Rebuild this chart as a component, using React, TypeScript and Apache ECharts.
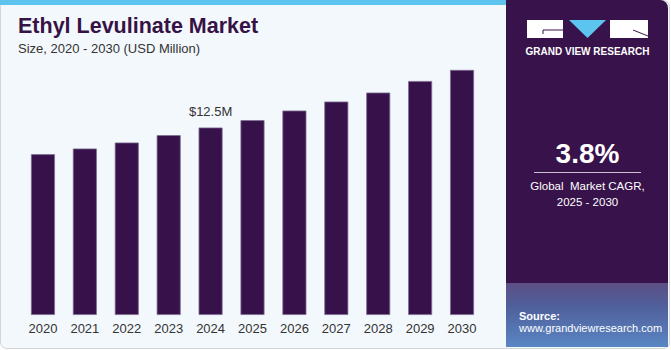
import React, { useEffect, useRef } from "react";
import * as echarts from "echarts";

const years = ["2020", "2021", "2022", "2023", "2024", "2025", "2026", "2027", "2028", "2029", "2030"];
const marketSize = [10.72, 11.1, 11.5, 11.99, 12.5, 12.99, 13.63, 14.23, 14.83, 15.6, 16.34];
const labelYear = "2024";
const labelText = "$12.5M";
const titleText = "Ethyl Levulinate Market";
const subtitleText = "Size, 2020 - 2030 (USD Million)";
const cagrValue = "3.8%";
const cagrLine1 = "Global  Market CAGR,";
const cagrLine2 = "2025 - 2030";

export default function App() {
  const ref = useRef<HTMLDivElement>(null);
  useEffect(() => {
    if (!ref.current) return;
    const chart = echarts.init(ref.current, undefined, { renderer: "svg" });
    const font = "'Liberation Sans', Arial, sans-serif";
    chart.setOption({
      animation: false,
      grid: { left: 22, right: 188, top: 45, bottom: 35 },
      xAxis: {
        type: "category",
        data: years,
        axisLine: { show: false },
        axisTick: { show: false },
        axisLabel: { color: "#333", fontSize: 13, fontFamily: font, margin: 7 },
      },
      yAxis: { type: "value", min: 0, max: 18, show: false, splitLine: { show: false } },
      graphic: [
        { type: "rect", z: -10, shape: { x: 0.5, y: 0.5, width: 669, height: 348, r: 6 }, style: { fill: "#f3f8fc", stroke: "#d2d4d6", lineWidth: 1 } },
        { type: "rect", z: -9, shape: { x: 0, y: 0, width: 506, height: 5 }, style: { fill: "#5cc4ef" } },
        { type: "rect", z: -9, shape: { x: 506, y: 0, width: 162, height: 347, r: [0, 8, 0, 0] }, style: { fill: "#38124a" } },
        {
          type: "rect", z: -8, shape: { x: 506, y: 283, width: 162, height: 64 },
          style: {
            fill: new echarts.graphic.LinearGradient(0, 0, 0, 1, [
              { offset: 0, color: "#5c4f85" },
              { offset: 0.35, color: "#4f5f9a" },
              { offset: 1, color: "#5a86c4" },
            ]),
          },
        },
        { type: "text", style: { x: 18, y: 15, text: titleText, fill: "#361245", font: `bold 21.5px ${font}` } },
        { type: "text", style: { x: 18, y: 42, text: subtitleText, fill: "#333", font: `13px ${font}` } },
        // logo
        { type: "rect", shape: { x: 527, y: 20, width: 36, height: 18 }, style: { fill: "#ffffff" } },
        { type: "polyline", shape: { points: [[563, 30], [543, 30], [543, 34]] }, style: { stroke: "#38124a", lineWidth: 1, fill: null } },
        { type: "polygon", shape: { points: [[569, 20], [606, 20], [587.5, 38]] }, style: { fill: "#5cc4ef" } },
        { type: "rect", shape: { x: 610, y: 20, width: 38, height: 18 }, style: { fill: "#ffffff" } },
        { type: "line", shape: { x1: 633, y1: 30, x2: 648, y2: 36 }, style: { stroke: "#38124a", lineWidth: 1 } },
        { type: "text", style: { x: 587.5, y: 46, text: "GRAND VIEW RESEARCH", fill: "#ffffff", font: `bold 10px ${font}`, align: "center" } },
        // CAGR
        { type: "text", style: { x: 587.5, y: 139, text: cagrValue, fill: "#ffffff", font: `bold 28px ${font}`, align: "center" } },
        { type: "line", shape: { x1: 534, y1: 172.5, x2: 641, y2: 172.5 }, style: { stroke: "#c9bfd3", lineWidth: 1.2 } },
        { type: "text", style: { x: 587.5, y: 180, text: cagrLine1, fill: "#ffffff", font: `11.5px ${font}`, align: "center" } },
        { type: "text", style: { x: 587.5, y: 196, text: cagrLine2, fill: "#ffffff", font: `11.5px ${font}`, align: "center" } },
        // source
        { type: "text", style: { x: 519, y: 310, text: "Source:", fill: "#ffffff", font: `bold 11px ${font}` } },
        { type: "text", style: { x: 519, y: 322, text: "www.grandviewresearch.com", fill: "#ffffff", font: `11px ${font}` } },
      ],
      series: [
        {
          type: "bar",
          barWidth: 24,
          data: marketSize.map((v, i) =>
            years[i] === labelYear
              ? { value: v, label: { show: true, position: "top", formatter: labelText, color: "#333", fontSize: 13, fontFamily: font, distance: 10 } }
              : v
          ),
          itemStyle: { color: "#371149", borderColor: "#7d6d92", borderWidth: 0.8 },
        },
      ],
    });
    return () => chart.dispose();
  }, []);
  return <div ref={ref} style={{ position: "absolute", left: 0, top: 0, width: 671, height: 350 }} />;
}
